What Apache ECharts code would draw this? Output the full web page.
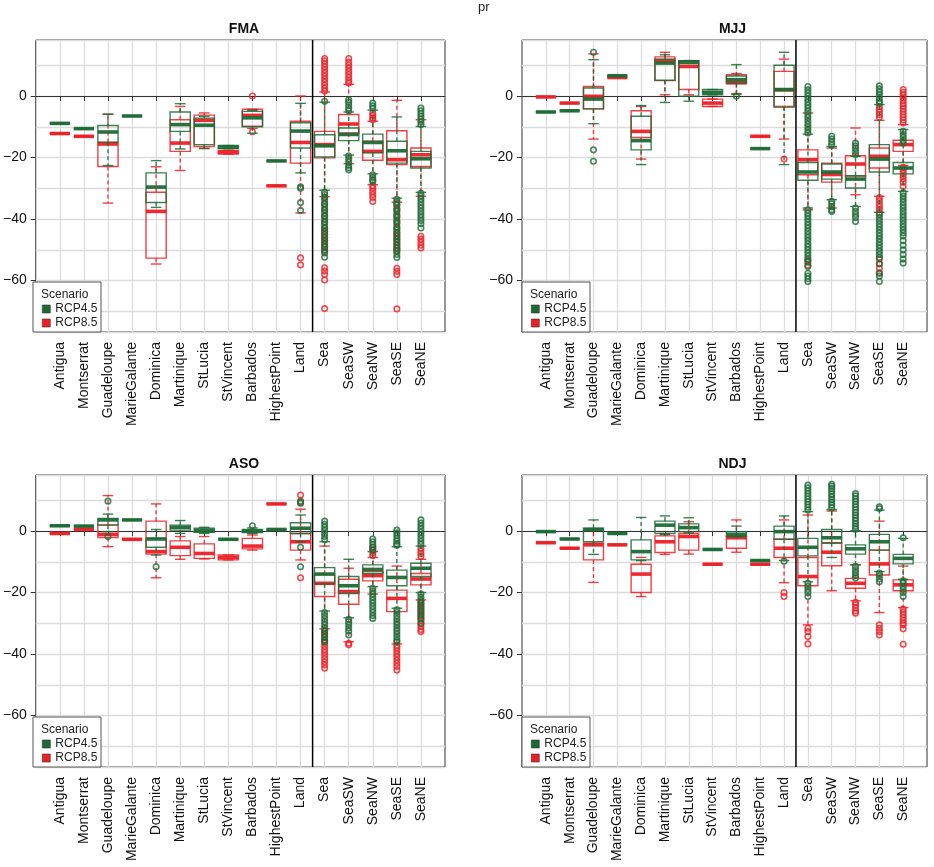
<!DOCTYPE html>
<html>
<head>
<meta charset="utf-8">
<title>pr</title>
<script src="https://cdn.jsdelivr.net/npm/echarts@6.0.0/dist/echarts.min.js"></script>
<style>
html, body { margin: 0; padding: 0; background: #fff; }
#chart { width: 934px; height: 867px; }
</style>
</head>
<body>
<div id="chart"></div>
<script>
// categories along x (same in all four seasons)
var categories = ['Antigua', 'Montserrat', 'Guadeloupe', 'MarieGalante', 'Dominica', 'Martinique',
  'StLucia', 'StVincent', 'Barbados', 'HighestPoint', 'Land', 'Sea', 'SeaSW', 'SeaNW', 'SeaSE', 'SeaNE'];
var seasons = ['FMA', 'MJJ', 'ASO', 'NDJ'];
var yTicks = [-60, -40, -20, 0];

// box stats per category: [lower whisker, Q1, median, Q3, upper whisker]
var fma45 = [
  [-8.9, -8.9, -8.9, -8.9, -8.9], [-10.6, -10.6, -10.6, -10.6, -10.6], [-22.6, -15.0, -11.7, -9.6, -5.9],
  [-6.5, -6.5, -6.5, -6.5, -6.5], [-36.2, -34.6, -29.6, -25.0, -21.0], [-17.2, -11.5, -9.3, -5.2, -2.5],
  [-17.0, -15.8, -9.5, -7.2, -6.6], [-17.1, -17.1, -16.6, -16.1, -16.1], [-12.1, -10.0, -7.1, -5.0, -4.7],
  [-21.1, -21.1, -21.1, -21.1, -21.1], [-25.0, -16.9, -11.4, -8.7, -2.4], [-30.6, -19.8, -16.2, -12.6, -2.0],
  [-19.2, -14.5, -12.5, -10.4, -5.2], [-25.3, -18.5, -15.1, -12.4, -4.6], [-33.2, -21.8, -17.8, -14.7, -6.8],
  [-31.3, -23.4, -20.4, -18.0, -9.9]
];
var fma85 = [
  [-12.2, -12.2, -12.2, -12.2, -12.2], [-13.1, -13.1, -13.1, -13.1, -13.1], [-34.8, -22.9, -15.6, -15.1, -5.9],
  null, [-54.6, -52.7, -37.5, -31.3, -23.0], [-24.2, -18.0, -15.3, -7.7, -3.4],
  [-17.1, -16.4, -7.9, -6.2, -5.5], [-18.9, -18.9, -18.3, -17.7, -17.7], [-10.5, -9.8, -6.3, -4.3, -4.3],
  [-29.2, -29.2, -29.2, -29.2, -29.2], [-38.0, -21.8, -15.1, -8.2, 0.0], [-32.7, -20.1, -15.8, -11.5, 1.3],
  [-22.0, -12.0, -9.1, -6.0, 3.8], [-28.8, -20.9, -18.0, -14.7, -8.2], [-34.5, -22.3, -20.7, -11.3, -1.4],
  [-32.6, -22.9, -19.1, -16.9, -7.7]
];
var mjj45 = [
  [-5.2, -5.2, -5.2, -5.2, -5.2], [-4.8, -4.8, -4.8, -4.8, -4.8], [-9.0, -4.2, -1.0, 2.6, 11.8],
  [6.6, 6.6, 6.6, 6.6, 6.6], [-22.3, -17.5, -14.5, -6.6, -3.1], [-2.1, 5.1, 10.7, 12.0, 13.4],
  [-1.7, -0.1, 10.9, 11.5, 11.5], [0.4, 0.4, 1.2, 2.1, 2.1], [0.5, 4.2, 5.3, 6.5, 10.2],
  [-17.1, -17.1, -17.1, -17.1, -17.1], [-22.3, -3.6, 2.1, 10.0, 14.2], [-36.4, -27.4, -24.7, -21.6, -12.4],
  [-33.7, -27.0, -24.7, -22.1, -16.4], [-35.9, -29.9, -27.0, -25.9, -19.6], [-37.8, -24.7, -20.5, -15.8, -2.8],
  [-31.0, -25.3, -23.4, -21.6, -10.9]
];
var mjj85 = [
  [-0.3, -0.3, -0.3, -0.3, -0.3], [-2.3, -2.3, -2.3, -2.3, -2.3], [-14.0, -4.2, -0.1, 3.1, 13.7],
  [6.0, 6.0, 6.0, 6.0, 6.0], [-20.5, -13.5, -11.5, -4.8, -3.4], [0.4, 5.0, 11.5, 12.7, 14.2],
  [0.4, 2.1, 9.6, 11.5, 11.5], [-3.4, -3.4, -2.3, -1.0, -1.0], [0.8, 4.0, 4.4, 6.9, 7.3],
  [-13.1, -13.1, -13.1, -13.1, -13.1], [-14.0, -3.4, 2.0, 8.0, 12.0], [-37.0, -25.6, -20.7, -17.5, -5.5],
  [-36.4, -28.0, -25.5, -21.8, -16.9], [-32.1, -26.0, -22.1, -19.4, -10.4], [-32.6, -23.4, -19.6, -16.9, -7.9],
  [-22.6, -18.0, -15.8, -14.4, -9.3]
];
var aso45 = [
  [1.7, 1.7, 1.7, 1.7, 1.7], [1.6, 1.6, 1.6, 1.6, 1.6], [-0.2, 1.9, 3.6, 4.1, 5.5],
  [3.6, 3.6, 3.6, 3.6, 3.6], [-7.8, -5.3, -2.6, -2.4, 0.5], [-0.8, 0.3, 1.2, 1.9, 3.4],
  [-0.8, -0.4, 0.1, 0.9, 1.2], [-2.7, -2.7, -2.7, -2.7, -2.7], [-0.8, -0.5, 0.0, 0.5, 1.0],
  [0.5, 0.5, 0.5, 0.5, 0.5], [-3.5, -0.8, 0.9, 2.7, 5.2], [-26.0, -17.2, -14.0, -11.9, -3.5],
  [-28.2, -20.3, -17.8, -14.8, -9.2], [-18.1, -13.8, -12.5, -11.0, -6.7], [-25.1, -17.8, -15.1, -12.7, -5.1],
  [-20.0, -14.8, -12.1, -10.5, -4.9]
];
var aso85 = [
  [-0.8, -0.8, -0.8, -0.8, -0.8], [0.6, 0.6, 0.6, 0.6, 0.6], [-5.1, -2.1, -1.1, 2.0, 11.5],
  [-2.7, -2.7, -2.7, -2.7, -2.7], [-15.2, -7.5, -6.7, 3.2, 8.8], [-9.2, -8.0, -5.3, -3.2, -1.8],
  [-9.1, -8.9, -7.3, -4.2, -1.8], [-9.4, -9.4, -8.6, -7.8, -7.8], [-6.2, -5.8, -4.9, -2.4, -1.3],
  [8.8, 8.8, 8.8, 8.8, 8.8], [-9.4, -6.2, -3.5, -0.8, 7.1], [-31.8, -21.3, -17.0, -14.1, -4.9],
  [-36.0, -23.8, -19.7, -15.7, -12.1], [-20.5, -16.2, -14.5, -13.2, -8.6], [-36.7, -26.2, -21.9, -19.2, -11.4],
  [-22.4, -17.5, -15.6, -13.8, -9.2]
];
var ndj45 = [
  [-0.2, -0.2, -0.2, -0.2, -0.2], [-2.6, -2.6, -2.6, -2.6, -2.6], [-7.6, -3.5, 0.5, 0.9, 3.6],
  [-0.8, -0.8, -0.8, -0.8, -0.8], [-9.6, -9.4, -6.7, -2.9, 4.4], [-1.2, -0.8, 1.9, 3.2, 4.9],
  [-0.6, -0.2, 1.1, 2.3, 4.3], [-6.0, -6.0, -6.0, -6.0, -6.0], [-1.8, -1.8, -1.1, -0.2, 1.6],
  [-9.6, -9.6, -9.6, -9.6, -9.6], [-9.6, -2.7, -0.2, 1.6, 4.9], [-16.5, -8.1, -5.3, -2.4, 6.3],
  [-8.6, -3.8, -2.2, 0.5, 7.0], [-11.0, -7.5, -5.8, -4.5, 0.1], [-13.2, -6.2, -3.5, -1.1, 6.8],
  [-15.7, -10.7, -8.9, -7.6, -2.4]
];
var ndj85 = [
  [-3.8, -3.8, -3.8, -3.8, -3.8], [-5.6, -5.6, -5.6, -5.6, -5.6], [-16.7, -9.4, -4.5, -4.0, 0.5],
  [-4.5, -4.5, -4.5, -4.5, -4.5], [-21.3, -20.0, -14.0, -10.8, -8.6], [-7.6, -7.0, -3.5, -1.6, -0.8],
  [-7.5, -6.2, -1.8, -0.8, 3.0], [-10.8, -10.8, -10.8, -10.8, -10.8], [-6.9, -5.6, -2.2, -1.8, 3.6],
  [-10.8, -10.8, -10.8, -10.8, -10.8], [-16.8, -8.6, -5.6, -2.7, 3.6], [-30.5, -17.8, -14.8, -8.6, 5.2],
  [-19.4, -11.3, -6.9, -4.0, 6.5], [-22.7, -18.6, -17.0, -15.4, -11.0], [-26.5, -14.3, -10.7, -6.2, 3.2],
  [-24.9, -19.4, -17.5, -15.9, -11.4]
];

// outliers per category (same order as categories)
var fmaOut45 = [[], [], [], [], [], [], [], [], [], [],
  [-29.5, -30.0, -34.6, -37.2],
  [-1.7, -31.2, -32, -33, -34, -35, -36, -37, -38, -39, -40, -41, -42, -43, -44, -45, -46, -47, -48, -49, -50, -51, -52.4],
  [-1.2, -2, -3, -4, -4.8, -19.5, -20.5, -21.5, -22.5, -23.3, -24],
  [-2.3, -3.2, -4.0, -25.6, -26.5, -27.3, -27.8],
  [-33.6, -34.5, -35.5, -36.5, -37.5, -38.5, -39.5, -40.5, -41.5, -42.5, -43.5, -44.5, -45.5, -46.5, -47.5, -48.5, -49.5, -50.5, -51.5, -52.5],
  [-3.9, -4.8, -5.7, -6.6, -7.5, -8.4, -9.3, -31.6, -32.5, -33.5, -34.5, -35.5, -36.5, -37.5, -38.5, -39.5, -40.5, -41.5, -42.9]
];
var fmaOut85 = [[], [], [], [], [], [], [], [], [0, -11.6], [],
  [-52.6, -54.9],
  [1.6, 2.5, 3.5, 4.5, 5.5, 6.5, 7.5, 8.5, 9.5, 10.5, 11.4, 12.2, -33, -35, -37, -39, -41, -43, -44, -45, -46, -47, -48, -49, -50.4, -55.8, -56.9, -58, -59.8, -69.1],
  [4.2, 5, 6, 7, 8, 9, 10, 11, 12.2],
  [-5.5, -6.3, -7.1, -7.7, -29.2, -30, -31, -32, -33, -34.3],
  [-35, -37, -39, -41, -43, -44.5, -45.5, -46.5, -47.5, -48.5, -49.5, -50.3, -56, -57, -58, -69.2],
  [-45.6, -46.5, -47.5, -48.5, -49.4]
];
var mjjOut45 = [[], [], [14.2, -17.5, -21.2], [], [], [], [], [], [-0.1], [],
  [],
  [3.1, 2, 1, 0, -1, -2, -3, -4, -5, -6, -7, -8, -9, -10, -11, -12, -37, -38, -39, -40, -41, -42, -43, -44, -45, -46, -47, -48, -49, -50, -51, -52, -53, -54, -55.4, -57.6, -58.5, -59.4, -60.3],
  [-13.1, -14, -15, -16, -34.2, -35, -36, -37, -37.5],
  [-15.3, -16.2, -17, -18, -19, -36.4, -37.5, -38.5, -39.5, -40.8],
  [3.3, 2.3, 1.3, 0.3, -0.7, -1.7, -2.3, -38.5, -39.5, -40.5, -41.5, -42.5, -43.5, -44.5, -45.5, -46.5, -47.5, -48.5, -49.5, -50.5, -51.5, -52.5, -54.5, -57.6, -58.5, -60.3],
  [-11.5, -12.5, -13.5, -14.5, -15.3, -31.5, -32.5, -33.5, -34.5, -35.5, -36.5, -37.5, -38.5, -39.5, -40.5, -41.5, -42.5, -43.5, -44.5, -45.5, -47, -48.5, -50, -51.5, -53, -54.3]
];
var mjjOut85 = [[], [], [], [], [], [], [], [], [], [],
  [-20.5],
  [-53.5, -55],
  [],
  [],
  [-3.4, -4.3, -5.2, -6.1, -7, -33, -34, -35, -36, -37, -38, -53, -54.5, -56, -57.5],
  [2.1, 1.2, 0.3, -0.6, -1.5, -2.4, -3.3, -4.2, -5.1, -6, -6.9, -7.8, -8.7, -23.2, -24, -25, -26, -27, -28, -29.4]
];
var asoOut45 = [[], [], [9.7, -1.8], [], [-11.6], [], [], [], [1.7], [],
  [9.7, 9.0, -5.3, -11.6],
  [3.2, 2.2, 1.2, 0.2, -0.8, -1.8, -2.8, -26.5, -27.5, -28.5, -29.5, -30.5, -31.5, -32.5, -33.5, -34.5, -35.5, -36],
  [-28.7, -29.5, -30.5, -31.5, -32.5, -33.8],
  [-2.6, -3.5, -4.4, -5.3, -6.2, -18.6, -19.5, -20.5, -21.5, -22.5, -23.5, -24.5, -25.5, -26.5, -27.5, -28.4],
  [0.3, -0.6, -1.5, -2.4, -3.3, -4.2, -4.6, -25.6, -26.5, -27.5, -28.5, -29.5, -30.5, -31.5, -32.5, -33.5, -34.5, -35.5, -36],
  [3.6, 2.6, 1.6, 0.6, -0.4, -1.4, -2.4, -3.4, -4.4, -20.5, -21.5, -22.5, -23.5, -24.5, -25.5, -26.5, -27.5, -28.5, -30]
];
var asoOut85 = [[], [], [], [], [], [], [], [], [], [],
  [11.7, 9.3, -15.2],
  [-32.3, -33.5, -34.5, -35.5, -36.5, -37.5, -38.5, -39.5, -40.5, -41.5, -42.5, -43.5, -44.6],
  [-36.5, -37],
  [-5.3, -6.2, -7.1, -8],
  [-37.2, -38, -39, -40, -41, -42, -43, -44, -45.2],
  [-5.6, -6.5, -7.4, -8.3, -23, -24, -25, -26, -27, -28, -29, -30, -31, -32, -32.7]
];
var ndjOut45 = [[], [], [], [], [], [], [], [], [], [],
  [-9.8],
  [6.8, 7.7, 8.6, 9.5, 10.4, 11.3, 12.2, 13.1, 14, 14.9, -17, -18, -19, -20, -21.3],
  [7.5, 8.4, 9.3, 10.2, 11.1, 12, 12.9, 13.8, 14.6, 15.2],
  [0.6, 1.5, 2.4, 3.3, 4.2, 5.1, 6, 6.9, 7.8, 8.7, 9.6, 10.5, 11.4, 12.2, -11.5, -12.5, -13.5, -14.5, -15.3],
  [7.3, 7.9, -13.7, -14.5, -15.5, -16.5],
  [-2.2, -16.2, -17, -18, -19, -20, -21.3]
];
var ndjOut85 = [[], [], [], [], [], [], [], [], [], [],
  [-20, -21.3],
  [-31.6, -32.7, -34.3, -36.7],
  [],
  [-23.2, -24, -25, -26, -26.7],
  [-30.5, -31.6, -32.7, -33.8],
  [-25.4, -26.3, -27.2, -28.1, -29, -29.9, -30.5, -31.8, -36.8]
];

var stats45 = [fma45, mjj45, aso45, ndj45];
var stats85 = [fma85, mjj85, aso85, ndj85];
var out45 = [fmaOut45, mjjOut45, asoOut45, ndjOut45];
var out85 = [fmaOut85, mjjOut85, asoOut85, ndjOut85];

var GREEN = '#1b6a35';
var RED = '#ec1f26';
var FONT = 'Liberation Sans, Arial, Helvetica, sans-serif';

// one blank slot at each end gives the outer padding of the panel
var xCats = [''].concat(categories, [' ']);

var grids = [
  { left: 33, top: 40, width: 412, height: 292 },
  { left: 522, top: 40, width: 411, height: 292 },
  { left: 33, top: 475, width: 412, height: 292 },
  { left: 522, top: 475, width: 411, height: 292 }
];

function boxRenderer(color) {
  return function (params, api) {
    var x = api.value(0);
    var lo = api.coord([x, api.value(1)]);
    var q1 = api.coord([x, api.value(2)]);
    var md = api.coord([x, api.value(3)]);
    var q3 = api.coord([x, api.value(4)]);
    var hi = api.coord([x, api.value(5)]);
    var band = api.size([1, 0])[0];
    var half = band * 0.42, cap = band * 0.22, cx = md[0];
    var thin = { stroke: color, lineWidth: 1.4, opacity: 0.85 };
    var dash = { stroke: color, lineWidth: 1.4, opacity: 0.85, lineDash: [4, 3] };
    return {
      type: 'group',
      children: [
        { type: 'line', shape: { x1: cx, y1: q3[1], x2: cx, y2: hi[1] }, style: dash },
        { type: 'line', shape: { x1: cx, y1: q1[1], x2: cx, y2: lo[1] }, style: dash },
        { type: 'line', shape: { x1: cx - cap, y1: hi[1], x2: cx + cap, y2: hi[1] }, style: thin },
        { type: 'line', shape: { x1: cx - cap, y1: lo[1], x2: cx + cap, y2: lo[1] }, style: thin },
        { type: 'rect', shape: { x: cx - half, y: q3[1], width: half * 2, height: q1[1] - q3[1] },
          style: { fill: 'none', stroke: color, lineWidth: 1.4, opacity: 0.85 } },
        { type: 'line', shape: { x1: cx - half, y1: md[1], x2: cx + half, y2: md[1] },
          style: { stroke: color, lineWidth: 3.6, opacity: 0.95 } }
      ]
    };
  };
}

function separator(params, api) {
  // line halfway between Land and Sea
  var a = api.coord([11, 0])[0], b = api.coord([12, 0])[0];
  var cs = params.coordSys, mx = (a + b) / 2;
  return { type: 'line', shape: { x1: mx, y1: cs.y, x2: mx, y2: cs.y + cs.height },
    style: { stroke: '#000', lineWidth: 1.5 } };
}

function boxData(stats) {
  var d = [];
  stats.forEach(function (s, i) { if (s) d.push([i + 1].concat(s)); });
  return d;
}
function outData(lists) {
  var d = [];
  lists.forEach(function (l, i) { l.forEach(function (v) { d.push([i + 1, v]); }); });
  return d;
}
function yLabel(v) { return v === 0 ? '0' : '\u2212' + Math.abs(v); }

var xAxes = [], yAxes = [], series = [], titles = [], legends = [], graphics = [];

titles.push({ text: 'pr', left: 473, top: -4, textStyle: { fontSize: 13, fontWeight: 'normal', color: '#222', fontFamily: FONT } });

grids.forEach(function (g, k) {
  xAxes.push({
    gridIndex: k, type: 'category', data: xCats, boundaryGap: false,
    axisLine: { show: true, lineStyle: { color: '#333', width: 1 } },
    axisTick: { show: true, length: 5, interval: function (i) { return i > 0 && i < xCats.length - 1; },
      lineStyle: { color: '#333' } },
    axisLabel: { rotate: 90, interval: 0, fontSize: 14, color: '#111', margin: 10, fontFamily: FONT },
    splitLine: { show: true, interval: function (i) { return i > 0 && i < xCats.length - 1; },
      lineStyle: { color: '#dcdcdc', width: 1.3 } }
  });
  // grid lines every 10
  yAxes.push({
    gridIndex: k, type: 'value', min: -76.7, max: 18.2, splitNumber: 9,
    axisLine: { show: false }, axisTick: { show: false }, axisLabel: { show: false },
    splitLine: { show: true, lineStyle: { color: '#dcdcdc', width: 1.3 } }
  });
  // labelled ticks every 20
  yAxes.push({
    gridIndex: k, type: 'value', position: 'left', min: -76.7, max: 18.2,
    axisLine: { show: false },
    axisTick: { show: true, length: 5, customValues: yTicks, lineStyle: { color: '#333' } },
    axisLabel: { customValues: yTicks, formatter: yLabel, fontSize: 14, color: '#111', margin: 9, fontFamily: FONT },
    splitLine: { show: false }
  });
  var yi = k * 2;
  series.push({
    name: 'RCP8.5', type: 'custom', xAxisIndex: k, yAxisIndex: yi, renderItem: boxRenderer(RED),
    itemStyle: { color: RED }, encode: { x: 0, y: [1, 2, 3, 4, 5] }, data: boxData(stats85[k]), z: 3
  });
  series.push({
    name: 'RCP4.5', type: 'custom', xAxisIndex: k, yAxisIndex: yi, renderItem: boxRenderer(GREEN),
    itemStyle: { color: GREEN }, encode: { x: 0, y: [1, 2, 3, 4, 5] }, data: boxData(stats45[k]), z: 4
  });
  series.push({
    name: 'RCP8.5', type: 'scatter', xAxisIndex: k, yAxisIndex: yi, symbol: 'circle', symbolSize: 5.5,
    itemStyle: { color: 'rgba(255,255,255,0)', borderColor: RED, borderWidth: 1.6 },
    data: outData(out85[k]), z: 3, silent: true
  });
  series.push({
    name: 'RCP4.5', type: 'scatter', xAxisIndex: k, yAxisIndex: yi, symbol: 'circle', symbolSize: 5.5,
    itemStyle: { color: 'rgba(255,255,255,0)', borderColor: GREEN, borderWidth: 1.6 },
    data: outData(out45[k]), z: 4, silent: true
  });
  series.push({
    type: 'custom', xAxisIndex: k, yAxisIndex: yi, renderItem: separator,
    encode: { x: 0, y: 1 }, data: [[11, 0]], z: 5, silent: true
  });

  titles.push({
    text: seasons[k], left: g.left + g.width / 2, top: g.top - 23, textAlign: 'center',
    textStyle: { fontSize: 14, fontWeight: 'bold', color: '#111', fontFamily: FONT }
  });

  var bx = g.left, by = g.top + g.height - 50;
  graphics.push({ type: 'rect', z: 100, shape: { x: bx, y: by, width: 68, height: 50 },
    style: { fill: '#fff', stroke: '#555', lineWidth: 1 } });
  graphics.push({ type: 'text', z: 101, x: bx + 8, y: by + 7,
    style: { text: 'Scenario', fontSize: 12, fill: '#222', fontFamily: FONT } });
  legends.push({
    left: bx + 9, top: by + 21, orient: 'vertical', padding: 0, itemGap: 2,
    itemWidth: 8, itemHeight: 8, icon: 'rect', selectedMode: false, z: 200,
    textStyle: { fontSize: 12, color: '#222', fontFamily: FONT },
    data: [
      { name: 'RCP4.5', itemStyle: { color: GREEN, borderColor: '#333', borderWidth: 0.6 } },
      { name: 'RCP8.5', itemStyle: { color: RED, borderColor: '#333', borderWidth: 0.6 } }
    ]
  });
});

var chart = echarts.init(document.getElementById('chart'));
chart.setOption({
  backgroundColor: '#fff',
  animation: false,
  textStyle: { fontFamily: FONT },
  title: titles,
  legend: legends,
  graphic: graphics,
  grid: grids.map(function (g) {
    return { left: g.left, top: g.top, width: g.width, height: g.height, show: true,
      borderColor: '#333', borderWidth: 1, backgroundColor: '#fff' };
  }),
  xAxis: xAxes,
  yAxis: yAxes,
  series: series
});
</script>
</body>
</html>
